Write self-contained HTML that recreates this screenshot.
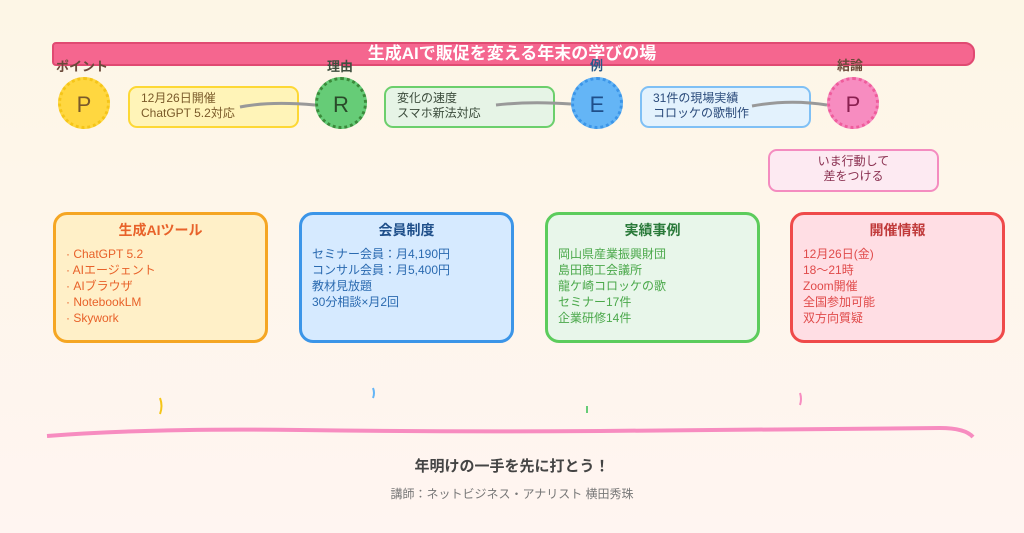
<!DOCTYPE html>
<html><head><meta charset="utf-8"><style>
*{margin:0;padding:0;box-sizing:border-box}
body{width:1024px;height:533px;overflow:hidden;background:linear-gradient(180deg,#fdf6e6,#fff5f1);font-family:"Liberation Sans","Noto Sans CJK JP",sans-serif;position:relative}
.a{position:absolute}
.lbl{font-size:13px;font-weight:bold;color:#6b4a3a}
.circ{position:absolute;width:52px;height:52px;border-radius:50%;font-size:22px;text-align:center;line-height:50px}
.ib{position:absolute;width:171px;height:42px;border-radius:9px;border:2px solid;font-size:12px;line-height:15px;padding:3px 0 0 11px}
.card{position:absolute;top:212px;width:215px;height:131px;border-radius:14px;border:3px solid;padding:6px 0 0 10px}
.card h3{font-size:14px;text-align:center;margin:0 0 7px -10px;line-height:18px}
.card div{font-size:12px;line-height:16px}
</style></head><body>
<div class="a" style="left:52px;top:42px;width:923px;height:24px;background:#f5668f;border:2px solid #e04a72;border-radius:4px 10px 10px 4px"></div>
<div class="a" style="left:0;width:1024px;top:44px;text-align:center;color:#fff;font-weight:bold;font-size:17px;line-height:20px">生成AIで販促を変える年末の学びの場</div>
<div class="a lbl" style="left:56px;top:56px">ポイント</div>
<div class="a lbl" style="left:327px;top:56px;color:#3f4f3f">理由</div>
<div class="a lbl" style="left:590px;top:55px;color:#2a5a8a">例</div>
<div class="a lbl" style="left:837px;top:55px">結論</div>
<div class="circ" style="left:58px;top:77px;background:#ffd740;border:3px dotted #f5c518;color:#7a5a2a">P</div>
<div class="circ" style="left:315px;top:77px;background:#66cc77;border:3px dotted #3a8a3a;color:#2a4a2a">R</div>
<div class="circ" style="left:571px;top:77px;background:#64b5f6;border:3px dotted #3b95e8;color:#1f4f8a">E</div>
<div class="circ" style="left:827px;top:77px;background:#f78cc0;border:3px dotted #ef5c9c;color:#8a2050">P</div>
<div class="ib" style="left:128px;top:86px;background:#fff4b8;border-color:#fdd835;color:#7a5a2a">12月26日開催<br>ChatGPT 5.2対応</div>
<div class="ib" style="left:384px;top:86px;background:#e6f4e6;border-color:#6ccf6c;color:#3a4a3a">変化の速度<br>スマホ新法対応</div>
<div class="ib" style="left:640px;top:86px;background:#e3f2fd;border-color:#7fc0f5;color:#2a4a7a">31件の現場実績<br>コロッケの歌制作</div>
<div class="ib" style="left:768px;top:149px;height:43px;background:#fdeaf2;border-color:#f48cc0;color:#8a3050;text-align:center;padding-left:0">いま行動して<br>差をつける</div>
<svg class="a" style="left:0;top:0" width="1024" height="533">
<path d="M240 107 Q270 101 315 105" stroke="#999" stroke-width="3" fill="none"/>
<path d="M496 105 Q530 101 571 104" stroke="#999" stroke-width="3" fill="none"/>
<path d="M752 106 Q790 99 827 105" stroke="#999" stroke-width="3" fill="none"/>
<path d="M47 436 Q150 428 300 430 T600 431 T940 428 Q965 428 973 437" stroke="#f78cc0" stroke-width="4" fill="none"/>
<path d="M160 398 Q163 406 160 414" stroke="#f5c518" stroke-width="2" fill="none"/>
<path d="M373 388 Q375 393 373 398" stroke="#64b5f6" stroke-width="2" fill="none"/>
<path d="M587 406 L587 413" stroke="#66cc77" stroke-width="2" fill="none"/>
<path d="M800 393 Q802 399 800 405" stroke="#f78cc0" stroke-width="2" fill="none"/>
</svg>
<div class="card" style="left:53px;background:#fff0c8;border-color:#f5a623;color:#e8622a"><h3>生成AIツール</h3><div>· ChatGPT 5.2<br>· AIエージェント<br>· AIブラウザ<br>· NotebookLM<br>· Skywork</div></div>
<div class="card" style="left:299px;background:#d6eaff;border-color:#3b95e8;color:#2a6ab0"><h3 style="color:#1f4f8a">会員制度</h3><div>セミナー会員：月4,190円<br>コンサル会員：月5,400円<br>教材見放題<br>30分相談×月2回</div></div>
<div class="card" style="left:545px;background:#e8f6ea;border-color:#5ccc5c;color:#4aa84a"><h3 style="color:#2a7a3a">実績事例</h3><div>岡山県産業振興財団<br>島田商工会議所<br>龍ケ崎コロッケの歌<br>セミナー17件<br>企業研修14件</div></div>
<div class="card" style="left:790px;background:#ffdee4;border-color:#ef4a4a;color:#e04a4a"><h3 style="color:#c03a3a">開催情報</h3><div>12月26日(金)<br>18〜21時<br>Zoom開催<br>全国参加可能<br>双方向質疑</div></div>
<div class="a" style="left:0;width:1024px;top:455px;text-align:center;font-size:15px;font-weight:bold;color:#444">年明けの一手を先に打とう！</div>
<div class="a" style="left:0;width:1024px;top:485px;text-align:center;font-size:12px;color:#777">講師：ネットビジネス・アナリスト 横田秀珠</div>
</body></html>
